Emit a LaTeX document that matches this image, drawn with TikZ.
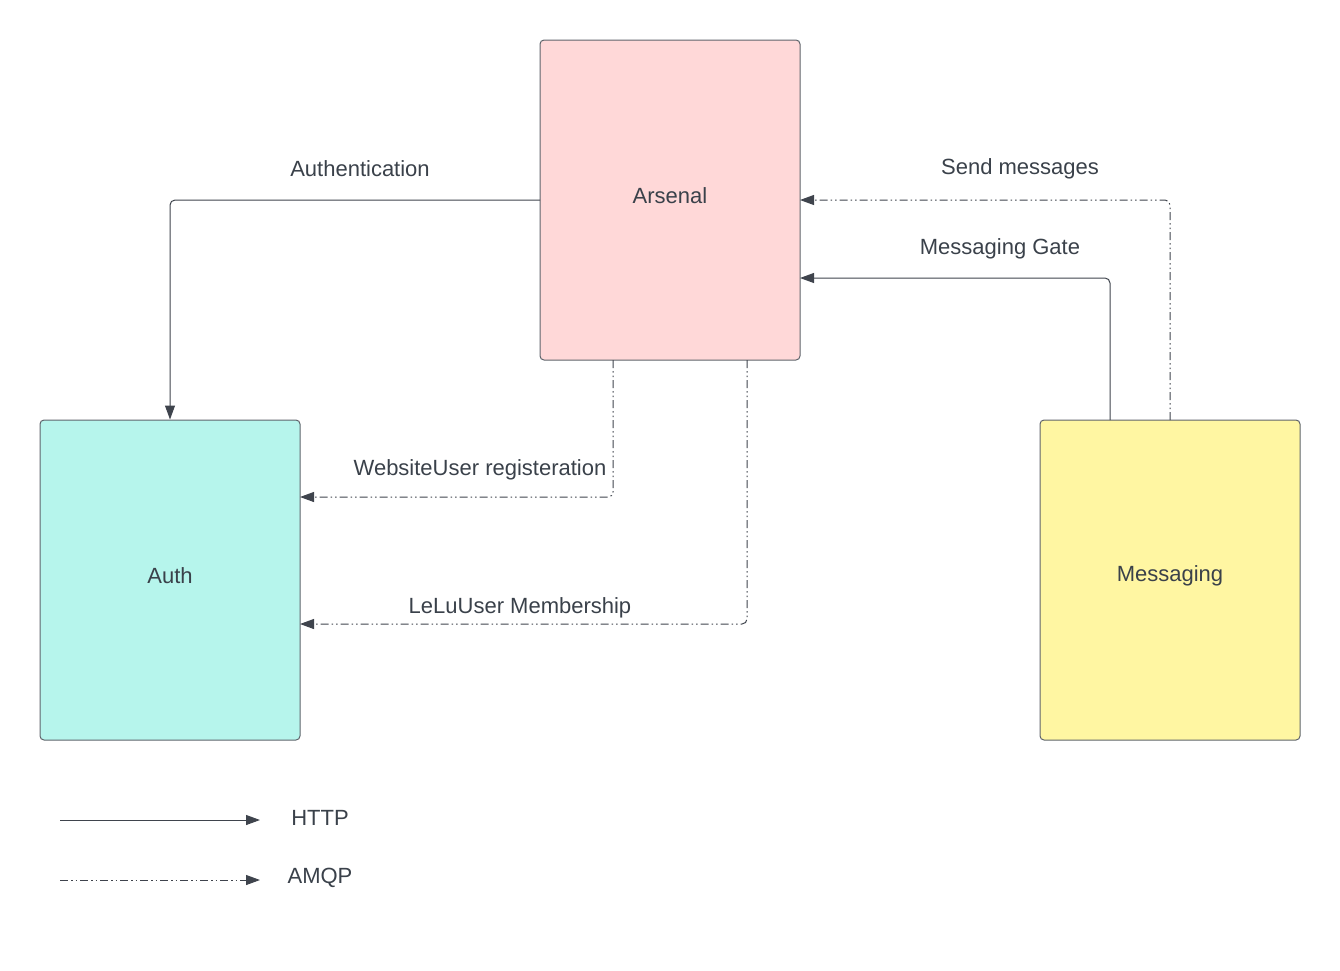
\documentclass[tikz,border=0pt]{standalone}
\usepackage{fontspec}
\setmainfont{Liberation Sans}
\usetikzlibrary{arrows.meta}
\definecolor{txt}{HTML}{3A414A}
\definecolor{ln}{HTML}{3F444D}
\definecolor{bord}{HTML}{5F646B}
\definecolor{pinkf}{HTML}{FFD8D8}
\definecolor{tealf}{HTML}{B6F5EC}
\definecolor{yelf}{HTML}{FFF6A2}
\tikzset{
  svc/.style={draw=bord, line width=1pt, rounded corners=4pt, minimum width=260pt, minimum height=320pt, inner sep=0pt},
  svclbl/.style={text=txt, font=\fontsize{22}{26}\selectfont, inner sep=0pt},
  lbl/.style={text=txt, font=\fontsize{22}{26}\selectfont, inner sep=0pt},
  http/.style={draw=ln, line width=1pt, rounded corners=5pt, -{Triangle[length=14pt,width=10pt]}},
  amqp/.style={http, dash pattern=on 8pt off 3pt on 1.5pt off 3pt on 1.5pt off 3pt},
}
\begin{document}
\begin{tikzpicture}[x=1pt,y=-1pt]
\useasboundingbox (0,0) rectangle (1340,970);
\node[svc, fill=pinkf] (ars) at (670,200) {};
\node[svclbl] (arsl) at (670,196) {Arsenal};
\node[svc, fill=tealf] (auth) at (170,580) {};
\node[svclbl] (authl) at (170,576) {Auth};
\node[svc, fill=yelf] (msg) at (1170,580) {};
\node[svclbl] (msgl) at (1170,576) {Messaging};

% Authentication
\coordinate (a1) at (540,200);
\draw[http] (a1) -| (auth.north);
\node[lbl] (la) at (360,169) {Authentication};

% Send messages
\coordinate (s1) at (1170,420);
\coordinate (s2) at (800,200);
\draw[amqp] (s1) |- (s2);
\node[lbl] (ls) at (1020,169) {Send messages};

% Messaging Gate
\coordinate (g1) at (1110,420);
\coordinate (g2) at (800,278);
\draw[http] (g1) |- (g2);
\node[lbl] (lg) at (1000,249) {Messaging Gate};

% WebsiteUser registeration
\coordinate (w1) at (613,360);
\coordinate (w2) at (300,497);
\draw[amqp] (w1) |- (w2);
\node[lbl] (lw) at (480,470) {WebsiteUser registeration};

% LeLuUser Membership
\coordinate (m1) at (747,360);
\coordinate (m2) at (300,624);
\draw[amqp] (m1) |- (m2);
\node[lbl] (lm) at (520,608) {LeLuUser Membership};

% Legend
\coordinate (h1) at (60,820);
\coordinate (h2) at (260,820);
\draw[http] (h1) -- (h2);
\node[lbl] (lh) at (320,818) {HTTP};
\coordinate (q1) at (60,880);
\coordinate (q2) at (260,880);
\draw[amqp] (q1) -- (q2);
\node[lbl] (lq) at (320,878) {AMQP};
\end{tikzpicture}
\end{document}
